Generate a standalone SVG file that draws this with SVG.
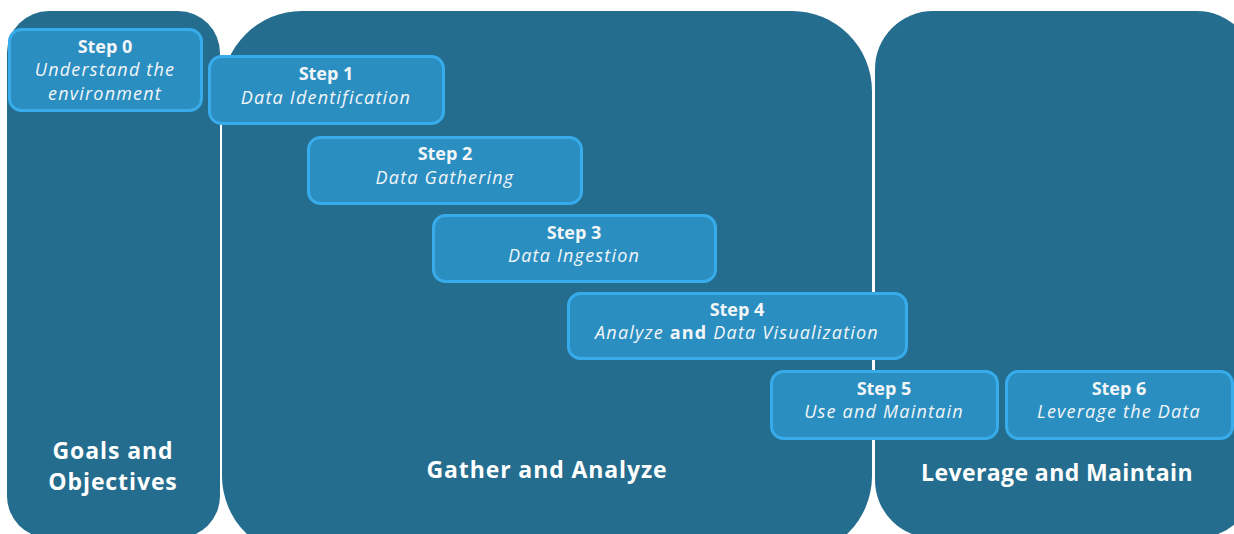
<svg xmlns="http://www.w3.org/2000/svg" width="1234" height="534" viewBox="0 0 1234 534">
<style>
.panel{fill:#246D8E}
.box{fill:#2B8EC1;stroke:#38ABEA;stroke-width:3}
.t{font-family:"Open Sans",Lato,sans-serif;fill:#F2F6F8;text-anchor:middle}
.h{font-size:18px;font-weight:bold}
.s{font-size:18px;font-style:italic;letter-spacing:1.2px}
.p{font-size:23px;font-weight:bold;fill:#FFFFFF;letter-spacing:0.9px}
</style>
<rect width="1234" height="534" fill="#FFFFFF"/>
<g id="panel-goals">
<rect class="panel" x="7" y="11" width="213" height="527" rx="42" ry="42"/>
<text class="t p" x="113" y="459">Goals and</text>
<text class="t p" x="113" y="490">Objectives</text>
</g>
<g id="panel-gather">
<rect class="panel" x="222" y="11" width="650" height="545" rx="80" ry="80"/>
<text class="t p" x="547" y="478">Gather and Analyze</text>
</g>
<g id="panel-leverage">
<rect class="panel" x="875" y="11" width="380" height="527" rx="58" ry="58"/>
<text class="t p" x="1057" y="481" style="letter-spacing:0.4px">Leverage and Maintain</text>
</g>
<g id="connectors"></g>
<g id="step0">
<rect class="box" x="9.5" y="29.5" width="192" height="81" rx="12"/>
<text class="t h" x="105" y="53">Step 0</text>
<text class="t s" x="105" y="76">Understand the</text>
<text class="t s" x="105" y="100">environment</text>
</g>
<g id="step1">
<rect class="box" x="209.5" y="56.5" width="234" height="67" rx="12"/>
<text class="t h" x="326" y="80">Step 1</text>
<text class="t s" x="326" y="104">Data Identification</text>
</g>
<g id="step2">
<rect class="box" x="308.5" y="137.5" width="273" height="66" rx="12"/>
<text class="t h" x="445" y="160">Step 2</text>
<text class="t s" x="445" y="184">Data Gathering</text>
</g>
<g id="step3">
<rect class="box" x="433.5" y="215.5" width="282" height="66" rx="12"/>
<text class="t h" x="574" y="239">Step 3</text>
<text class="t s" x="574" y="262">Data Ingestion</text>
</g>
<g id="step4">
<rect class="box" x="568.5" y="293.5" width="338" height="65" rx="12"/>
<text class="t h" x="737" y="316">Step 4</text>
<text class="t s" x="737" y="339">Analyze <tspan font-style="normal" font-weight="bold">and</tspan> Data Visualization</text>
</g>
<g id="step5">
<rect class="box" x="771.5" y="371.5" width="226" height="67" rx="12"/>
<text class="t h" x="884" y="395">Step 5</text>
<text class="t s" x="884" y="418">Use and Maintain</text>
</g>
<g id="step6">
<rect class="box" x="1006.5" y="371.5" width="226" height="67" rx="12"/>
<text class="t h" x="1119" y="395">Step 6</text>
<text class="t s" x="1119" y="418">Leverage the Data</text>
</g>
</svg>
